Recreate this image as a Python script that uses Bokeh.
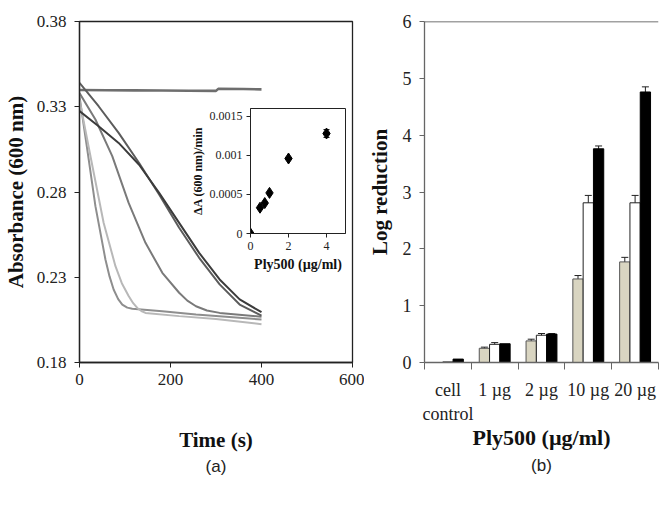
from bokeh.plotting import figure
from bokeh.models import (Range1d, FixedTicker, NumeralTickFormatter, Whisker, TeeHead,
                          ColumnDataSource, Title, Span, Row)
from bokeh.transform import dodge
from bokeh.embed import file_html
from bokeh.resources import INLINE

# ---------------- data: panel (a) kinetics ----------------
t_control = [0, 60, 120, 180, 240, 300, 305, 360, 400]
a_control = [0.3398, 0.3397, 0.3396, 0.3395, 0.3394, 0.3393, 0.3405, 0.3404, 0.3402]

t_A = [0, 42, 86, 131, 175, 219, 263, 308, 352, 400]
a_A = [0.344, 0.3303, 0.3147, 0.297, 0.2785, 0.259, 0.2414, 0.2258, 0.214, 0.2075]
t_B = [0, 42, 86, 131, 175, 219, 263, 308, 352, 400]
a_B = [0.3275, 0.3186, 0.3088, 0.296, 0.2795, 0.2619, 0.2443, 0.2287, 0.217, 0.2095]
t_C = [0, 35, 72, 108, 145, 182, 219, 237, 256, 280, 308, 400]
a_C = [0.338, 0.3225, 0.301, 0.2736, 0.2502, 0.2326, 0.2209, 0.2163, 0.213, 0.2105, 0.2091, 0.2068]
t_D = [0, 27, 53, 79, 93, 108, 118, 127, 136, 145, 219, 300, 400]
a_D = [0.334, 0.297, 0.262, 0.2365, 0.2265, 0.219, 0.2148, 0.212, 0.2102, 0.2091, 0.2072, 0.2055, 0.2025]
t_E = [0, 16, 35, 57, 66, 75, 85, 94, 105, 116, 182, 256, 400]
a_E = [0.336, 0.3069, 0.2717, 0.2404, 0.2305, 0.2228, 0.2172, 0.214, 0.2122, 0.2115, 0.2101, 0.2082, 0.2052]

# inset: rate vs Ply500 concentration
inset_conc = [0, 0.5, 0.75, 1, 2, 4]
inset_rate = [0.0, 0.00033, 0.00039, 0.00052, 0.00096, 0.00128]
inset_err = [0, 0, 0, 0, 0, 0.00005]

# ---------------- data: panel (b) log reduction ----------------
categories = ["cell\ncontrol", "1 µg", "2 µg", "10 µg", "20 µg"]
beige_vals = [0.0, 0.25, 0.38, 1.47, 1.77]
beige_err = [0, 0.02, 0.03, 0.06, 0.08]
white_vals = [0.01, 0.32, 0.48, 2.81, 2.81]
white_err = [0, 0.03, 0.03, 0.13, 0.13]
black_vals = [0.06, 0.33, 0.50, 3.76, 4.76]
black_err = [0, 0, 0.01, 0.05, 0.09]

SERIF = "Liberation Serif"
SANS = "Liberation Sans"
H = 484
TOP = 21
FRAME_H = 341
BOTTOM = H - TOP - FRAME_H
WA = 364


def style_axes(p, tick_size, label_size, color="#222"):
    for ax in p.axis:
        ax.axis_line_color = color
        ax.axis_line_width = 1.3
        ax.major_tick_line_color = color
        ax.major_tick_in = 0
        ax.major_tick_out = 5
        ax.minor_tick_line_color = None
        ax.major_label_text_font = SERIF
        ax.major_label_text_font_size = tick_size
        ax.major_label_text_color = "#222"
        ax.axis_label_text_font = SERIF
        ax.axis_label_text_font_style = "bold"
        ax.axis_label_text_font_size = label_size
        ax.axis_label_text_color = "#111"


# ---------------- panel (a) ----------------
fa = figure(width=WA, height=H, x_range=Range1d(0, 600), y_range=Range1d(0.18, 0.38),
            output_backend="svg", toolbar_location=None,
            min_border_left=78, min_border_right=12, min_border_top=TOP, min_border_bottom=BOTTOM,
            x_axis_label="Time (s)", y_axis_label="Absorbance (600 nm)")
fa.grid.visible = False
fa.outline_line_color = "#222"
fa.outline_line_width = 1.3
style_axes(fa, "17px", "21px")
fa.xaxis.ticker = FixedTicker(ticks=[0, 200, 400, 600])
fa.yaxis.ticker = FixedTicker(ticks=[0.18, 0.23, 0.28, 0.33, 0.38])
fa.yaxis.formatter = NumeralTickFormatter(format="0.00")
fa.xaxis.major_label_standoff = 6
fa.yaxis.major_label_standoff = 8
fa.xaxis.axis_label_standoff = 40
fa.yaxis.axis_label_standoff = 6

fa.line(t_control, a_control, line_color="#6e6e6e", line_width=2.6)
fa.line(t_E, a_E, line_color="#8e8e8e", line_width=2)
fa.line(t_D, a_D, line_color="#b8b8b8", line_width=2)
fa.line(t_C, a_C, line_color="#7a7a7a", line_width=2)
fa.line(t_A, a_A, line_color="#5c5c5c", line_width=2)
fa.line(t_B, a_B, line_color="#3c3c3c", line_width=2)

fa.add_layout(Title(text="(a)", align="center", text_font=SANS, text_font_size="17px",
                    text_font_style="normal", text_color="#222", standoff=1), "below")

# ---------------- inset (pulled over panel (a) with negative margin) ----------------
fi = figure(width=164, height=TOP + 125 + BOTTOM, x_range=Range1d(0, 5), y_range=Range1d(0, 0.0016),
            output_backend="svg", toolbar_location=None,
            min_border_left=60, min_border_right=6, min_border_top=TOP, min_border_bottom=BOTTOM,
            x_axis_label="Ply500 (µg/ml)", y_axis_label="ΔA (600 nm)/min",
            margin=(87, 13, 0, -177))
fi.grid.visible = False
fi.outline_line_color = "#222"
fi.outline_line_width = 1
fi.border_fill_alpha = 0
fi.background_fill_color = "white"
style_axes(fi, "12px", "13px")
fi.xaxis.axis_label_text_font_size = "14px"
fi.yaxis.axis_label_text_font_size = "12px"
fi.xaxis.ticker = FixedTicker(ticks=[0, 2, 4])
fi.yaxis.ticker = FixedTicker(ticks=[0, 0.0005, 0.001, 0.0015])
fi.yaxis.formatter = NumeralTickFormatter(format="0.[0000]")
for ax in fi.axis:
    ax.major_tick_out = 4
    ax.axis_line_width = 1
fi.xaxis.major_label_standoff = 4
fi.yaxis.major_label_standoff = 4
fi.xaxis.axis_label_standoff = 4
fi.yaxis.axis_label_standoff = 2

ins_src = ColumnDataSource(dict(x=inset_conc, y=inset_rate))
fi.scatter("x", "y", source=ins_src, marker="diamond", size=11, color="black")
err_idx = [i for i, e in enumerate(inset_err) if e > 0]
ins_err_src = ColumnDataSource(dict(
    x=[inset_conc[i] for i in err_idx],
    up=[inset_rate[i] + inset_err[i] for i in err_idx],
    lo=[inset_rate[i] - inset_err[i] for i in err_idx]))
fi.add_layout(Whisker(source=ins_err_src, base="x", upper="up", lower="lo",
                      line_color="black", line_width=1,
                      upper_head=TeeHead(size=6, line_color="black", line_width=1),
                      lower_head=TeeHead(size=6, line_color="black", line_width=1)))

# ---------------- panel (b) ----------------
idx = list(range(len(categories)))
fb = figure(width=295, height=H, x_range=Range1d(-0.5, len(categories) - 0.5), y_range=Range1d(0, 6),
            output_backend="svg", toolbar_location=None,
            min_border_left=55, min_border_right=1, min_border_top=TOP, min_border_bottom=BOTTOM,
            x_axis_label="Ply500 (µg/ml)", y_axis_label="Log reduction")
fb.grid.visible = False
fb.outline_line_color = None
style_axes(fb, "18px", "22px", color="#666")
fb.yaxis.axis_label_text_font_size = "21px"
fb.yaxis.ticker = FixedTicker(ticks=[0, 1, 2, 3, 4, 5, 6])
fb.xaxis.ticker = FixedTicker(ticks=idx, minor_ticks=[i - 0.5 for i in idx] + [idx[-1] + 0.5])
fb.xaxis.major_label_overrides = {i: c for i, c in zip(idx, categories)}
fb.xaxis.major_tick_line_color = None
fb.xaxis.minor_tick_line_color = "#666"
fb.xaxis.minor_tick_in = 0
fb.xaxis.minor_tick_out = 7
fb.xaxis.major_label_standoff = 10
fb.xaxis.axis_label_standoff = -2
fb.yaxis.major_label_standoff = 8
fb.yaxis.axis_label_standoff = 8
fb.add_layout(Span(location=6, dimension="width", line_color="#444", line_width=1.3))

bar_src = ColumnDataSource(dict(x=idx, beige=beige_vals, white=white_vals, black=black_vals))
W = 0.22
fb.vbar(x=dodge("x", -W, range=fb.x_range), top="beige", width=W, source=bar_src,
        fill_color="#d9d5c1", line_color="#555", line_width=1)
fb.vbar(x=dodge("x", 0, range=fb.x_range), top="white", width=W, source=bar_src,
        fill_color="white", line_color="#222", line_width=1)
fb.vbar(x=dodge("x", W, range=fb.x_range), top="black", width=W, source=bar_src,
        fill_color="black", line_color="black", line_width=1)

for off, vals, errs in [(-W, beige_vals, beige_err), (0, white_vals, white_err), (W, black_vals, black_err)]:
    keep = [i for i, e in enumerate(errs) if e > 0]
    src = ColumnDataSource(dict(x=[idx[i] for i in keep],
                                up=[vals[i] + errs[i] for i in keep],
                                lo=[vals[i] - errs[i] for i in keep]))
    fb.add_layout(Whisker(source=src, base=dodge("x", off, range=fb.x_range), upper="up", lower="lo",
                          line_color="#222", line_width=1,
                          upper_head=TeeHead(size=7, line_color="#222", line_width=1),
                          lower_head=TeeHead(size=7, line_color="#222", line_width=1)))

fb.add_layout(Title(text="(b)", align="center", text_font=SANS, text_font_size="17px",
                    text_font_style="normal", text_color="#222", standoff=3), "below")

layout = Row(children=[fa, fi, fb], spacing=0)
open("out.html", "w").write(file_html(layout, INLINE))
